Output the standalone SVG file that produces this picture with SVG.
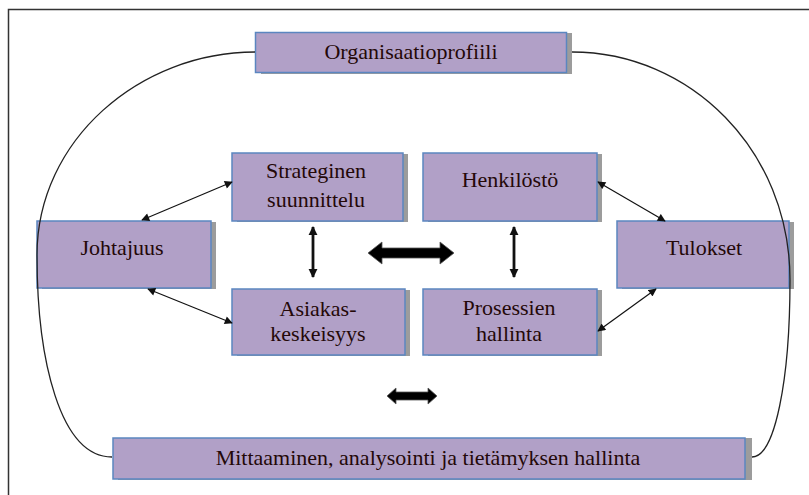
<svg xmlns="http://www.w3.org/2000/svg" width="809" height="495" viewBox="0 0 809 495">
  <defs>
    <style>
      .box { fill: #b1a0c7; stroke: #5b86c0; stroke-width: 1.5; }
      .shadow { fill: #9c9c9c; }
      .lbl { font-family: "Liberation Serif", "Times New Roman", serif; font-size: 22px; fill: #240808; text-anchor: middle; }
      .thin { fill: none; stroke: #111; stroke-width: 1.2; marker-start: url(#ah); marker-end: url(#ah); }
      .vert { fill: none; stroke: #111; stroke-width: 2.8; marker-start: url(#ahv); marker-end: url(#ahv); }
      .curve { fill: none; stroke: #222; stroke-width: 1.3; }
      .block { fill: #000; stroke: #555; stroke-width: 0.8; }
    </style>
    <marker id="ah" viewBox="0 0 10 10" refX="9" refY="5" markerWidth="9" markerHeight="8" markerUnits="userSpaceOnUse" orient="auto-start-reverse">
      <path d="M0,0 L10,5 L0,10 Z" fill="#111"/>
    </marker>
    <marker id="ahv" viewBox="0 0 10 10" refX="9" refY="5" markerWidth="9" markerHeight="10" markerUnits="userSpaceOnUse" orient="auto-start-reverse">
      <path d="M0,0 L10,5 L0,10 Z" fill="#111"/>
    </marker>
  </defs>

  <rect width="809" height="495" fill="#fff"/>
  <!-- page frame -->
  <path d="M8.5,495 L8.5,9.5 L809,9.5" fill="none" stroke="#333" stroke-width="1.5"/>

  <g id="organisaatioprofiili">
    <rect class="shadow" x="261" y="33" width="311" height="41"/>
    <rect class="box" x="255.5" y="32.5" width="311" height="40"/>
    <text class="lbl" x="411" y="59">Organisaatioprofiili</text>
  </g>

  <g id="strateginen">
    <rect class="shadow" x="237" y="154" width="171" height="68"/>
    <rect class="box" x="232" y="153" width="171" height="68"/>
    <text class="lbl" x="316" y="178">Strateginen</text>
    <text class="lbl" x="316" y="207">suunnittelu</text>
  </g>

  <g id="henkilosto">
    <rect class="shadow" x="428" y="154" width="174" height="68"/>
    <rect class="box" x="423" y="153" width="174" height="68"/>
    <text class="lbl" x="510" y="187">Henkilöstö</text>
  </g>

  <g id="johtajuus">
    <rect class="shadow" x="42" y="222" width="174" height="67"/>
    <rect class="box" x="37" y="221" width="174" height="67"/>
    <text class="lbl" x="122" y="255">Johtajuus</text>
  </g>

  <g id="tulokset">
    <rect class="shadow" x="622" y="222" width="172" height="67"/>
    <rect class="box" x="617" y="221" width="172" height="67"/>
    <text class="lbl" x="704" y="255">Tulokset</text>
  </g>

  <g id="asiakaskeskeisyys">
    <rect class="shadow" x="237" y="290" width="173" height="66"/>
    <rect class="box" x="232" y="289" width="173" height="66"/>
    <text class="lbl" x="318" y="316">Asiakas-</text>
    <text class="lbl" x="318" y="341">keskeisyys</text>
  </g>

  <g id="prosessit">
    <rect class="shadow" x="428" y="290" width="174" height="66"/>
    <rect class="box" x="423" y="289" width="174" height="66"/>
    <text class="lbl" x="509" y="315">Prosessien</text>
    <text class="lbl" x="509" y="341">hallinta</text>
  </g>

  <g id="mittaaminen">
    <rect class="shadow" x="118" y="438" width="634" height="42"/>
    <rect class="box" x="113" y="438" width="632" height="41"/>
    <text class="lbl" x="428" y="465">Mittaaminen, analysointi ja tietämyksen hallinta</text>
  </g>

  <g id="connectors">
    <!-- outer loop -->
    <path class="curve" d="M255,52 C140,52 37,140 37,255 C37,360 60,457 112,457"/>
    <path class="curve" d="M572,52 C690,52 790,150 790,280 C790,380 775,457 752,457"/>
    <!-- thin two-way links -->
    <line class="thin" x1="142" y1="220" x2="232" y2="182"/>
    <line class="thin" x1="148" y1="289" x2="232" y2="323"/>
    <line class="thin" x1="598" y1="182" x2="665" y2="221"/>
    <line class="thin" x1="598" y1="331" x2="656" y2="289"/>
    <!-- vertical two-way links -->
    <line class="vert" x1="313" y1="227" x2="313" y2="277"/>
    <line class="vert" x1="514" y1="227" x2="514" y2="277"/>
    <!-- block double arrows -->
    <polygon class="block" points="368,253 382,242 382,248 440,248 440,242 454,253 440,264 440,258 382,258 382,264"/>
    <polygon class="block" points="387,396 396,388 396,392 428,392 428,388 437,396 428,404 428,400 396,400 396,404"/>
  </g>
</svg>
